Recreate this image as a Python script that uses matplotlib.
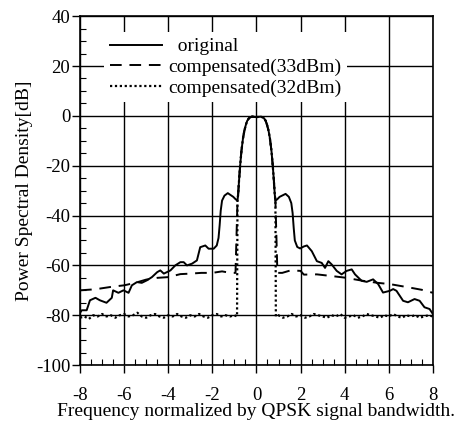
import numpy as np
import matplotlib
matplotlib.use('Agg')
import matplotlib.pyplot as plt
from matplotlib.ticker import MultipleLocator

plt.rcParams['font.family'] = ['Liberation Serif', 'DejaVu Serif']
plt.rcParams['axes.unicode_minus'] = False

# main lobe, shared by all three curves
lobe_x = [-0.83, -0.79, -0.74, -0.68, -0.61, -0.55, -0.48, -0.42, -0.33, -0.2, 0,
          0.2, 0.33, 0.42, 0.48, 0.55, 0.61, 0.68, 0.74, 0.79, 0.83]
lobe_y = [-31.5, -26, -20, -14, -9, -6, -3.6, -2, -0.8, -0.3, -0.5,
          -0.3, -0.8, -2, -3.6, -6, -9, -14, -20, -26, -31.5]

# original spectrum (solid), outside the main lobe
orig_left_x = [-8, -7.92, -7.7, -7.55, -7.3, -7.1, -6.8, -6.56, -6.5, -6.26, -6.03, -5.8, -5.65,
               -5.42, -5.2, -4.97, -4.74, -4.5, -4.36, -4.2, -4.06, -3.9, -3.68, -3.45, -3.3, -3.15,
               -2.92, -2.7, -2.55, -2.32, -2.17, -1.94, -1.8, -1.72, -1.67, -1.62, -1.56, -1.45,
               -1.3, -1.05, -0.94, -0.86]
orig_left_y = [-79, -78, -78, -74, -73, -74, -75, -73, -70, -71, -70, -71, -68,
               -66.7, -67, -66, -64.7, -62.7, -62, -63.3, -62.7, -62, -60, -58.7, -58.7, -60,
               -59.3, -58, -52.7, -52, -53.3, -53.3, -52, -49, -44, -38, -34, -32,
               -31, -32.5, -33.5, -34]
orig_right_x = [0.86, 0.94, 1.05, 1.32, 1.47, 1.58, 1.64, 1.69, 1.74, 1.85, 1.98, 2.15, 2.29,
                2.51, 2.74, 2.96, 3.11, 3.26, 3.41, 3.64, 3.86, 4.09, 4.32, 4.47, 4.77, 5.0, 5.29,
                5.52, 5.74, 6.05, 6.2, 6.35, 6.65, 6.87, 7.17, 7.4, 7.62, 7.85, 8.0]
orig_right_y = [-34, -33.5, -32.5, -31.3, -32.5, -35, -39, -45, -50, -52.6, -53.2, -52.4, -52,
                -54.3, -58.3, -59, -61, -58.3, -59.6, -62.2, -63.6, -62.2, -61.6, -63.6, -66.2, -66.6, -65.6,
                -67.5, -70.9, -70.2, -69.5, -70.2, -74.2, -74.8, -73.5, -74.2, -76.8, -77.5, -79.5]

# compensated 33dBm (dashed), outside the main lobe
comp33_left_x = [-8, -7.5, -7.1, -6.5, -6, -5.5, -5, -4.5, -4, -3.45, -3, -2.5, -2, -1.56,
                 -1.18, -0.95, -0.86]
comp33_left_y = [-70, -69.7, -69.3, -68.5, -68, -67, -65.7, -65, -64.7, -63.5, -63.3, -63, -63,
                 -62.4, -63, -63, -34]
comp33_right_x = [0.86, 0.95, 1.17, 1.55, 2.0, 2.15, 2.74, 3.34, 4.0, 4.84, 5.5, 6.05, 6.95,
                  7.5, 8.0]
comp33_right_y = [-34, -63, -63, -62, -62.2, -63.7, -63.6, -64.2, -64.9, -66.2, -67, -67.5, -68.9,
                  -69.8, -71]

# compensated 32dBm (dotted), outside the main lobe
comp32_left_x = [-8.0, -7.8, -7.6, -7.4, -7.2, -7.0, -6.8, -6.6, -6.4, -6.2, -6.0, -5.8, -5.6,
                 -5.4, -5.2, -5.0, -4.8, -4.6, -4.4, -4.2, -4.0, -3.8, -3.6, -3.4, -3.2, -3.0,
                 -2.8, -2.6, -2.4, -2.2, -2.0, -1.8, -1.6, -1.4, -1.2, -1.0, -0.88, -0.86]
comp32_left_y = [-81, -80.5, -81.5, -80, -80.5, -79.5, -80.5, -80, -81, -80, -79.5, -80.5, -80,
                 -79, -80.5, -81, -80, -79.5, -80.5, -81, -80, -80.5, -79.5, -80.5, -81, -80,
                 -80.5, -79.5, -80.5, -81, -80, -79.5, -80.5, -80, -80.5, -80, -80.5, -34]
comp32_right_x = [0.86, 0.88, 1.0, 1.2, 1.4, 1.6, 1.8, 2.0, 2.2, 2.4, 2.6, 2.8, 3.0, 3.2, 3.4,
                  3.6, 3.8, 4.0, 4.2, 4.4, 4.6, 4.8, 5.0, 5.2, 5.4, 5.6, 5.8, 6.0, 6.2, 6.4, 6.6,
                  6.8, 7.0, 7.2, 7.4, 7.6, 7.8, 8.0]
comp32_right_y = [-34, -80.5, -80, -81, -80.5, -79.5, -80.5, -80, -81, -80.5, -79.5, -80, -80.5,
                  -81, -80, -80.5, -79.5, -81, -80.5, -80, -81, -80.5, -79.5, -80, -80.5, -81,
                  -80, -80.5, -79.5, -80.5, -81, -80, -80.5, -80, -81, -80.5, -80, -80.5]

xticks = [-8, -6, -4, -2, 0, 2, 4, 6, 8]
yticks = [40, 20, 0, -20, -40, -60, -80, -100]

orig_x = orig_left_x + lobe_x + orig_right_x
orig_y = orig_left_y + lobe_y + orig_right_y
comp33_x = comp33_left_x + lobe_x + comp33_right_x
comp33_y = comp33_left_y + lobe_y + comp33_right_y
comp32_x = comp32_left_x + lobe_x + comp32_right_x
comp32_y = comp32_left_y + lobe_y + comp32_right_y

fig = plt.figure(figsize=(4.6, 4.26), dpi=100)
ax = fig.add_axes([0.174, 0.143, 0.767, 0.819])

ax.plot(orig_x, orig_y, color='black', lw=1.4, label='  original')
ax.plot(comp33_x, comp33_y, color='black', lw=1.4, linestyle=(0, (6, 4)),
        label='compensated(33dBm)')
ax.plot(comp32_x, comp32_y, color='black', lw=1.6, linestyle=(0, (1, 1.2)),
        label='compensated(32dBm)')

ax.set_xlim(-8, 8)
ax.set_ylim(-100, 40)
ax.set_xticks(xticks)
ax.set_yticks(yticks)
ax.xaxis.set_minor_locator(MultipleLocator(0.5))
ax.yaxis.set_minor_locator(MultipleLocator(5))
ax.tick_params(which='major', direction='out', length=6, width=1, labelsize=13.5)
ax.tick_params(axis='x', which='major', pad=10)
ax.tick_params(axis='y', which='major', pad=1)
ax.tick_params(which='minor', direction='in', length=4, width=0.8)
ax.grid(True, which='major', color='black', lw=1.0)
for sp in ax.spines.values():
    sp.set_linewidth(1.2)

ax.set_xlabel('Frequency normalized by QPSK signal bandwidth.', fontsize=14, labelpad=-1)
ax.set_ylabel('Power Spectral Density[dB]', fontsize=14, labelpad=2)

leg = ax.legend(loc='upper left', bbox_to_anchor=(0.068, 0.955), fontsize=14,
                frameon=True, fancybox=False, edgecolor='none', facecolor='white',
                framealpha=1, handlelength=2.7, handletextpad=0.3, labelspacing=0.15,
                borderpad=0.3, borderaxespad=0)

fig.savefig('out.png', dpi=100)
